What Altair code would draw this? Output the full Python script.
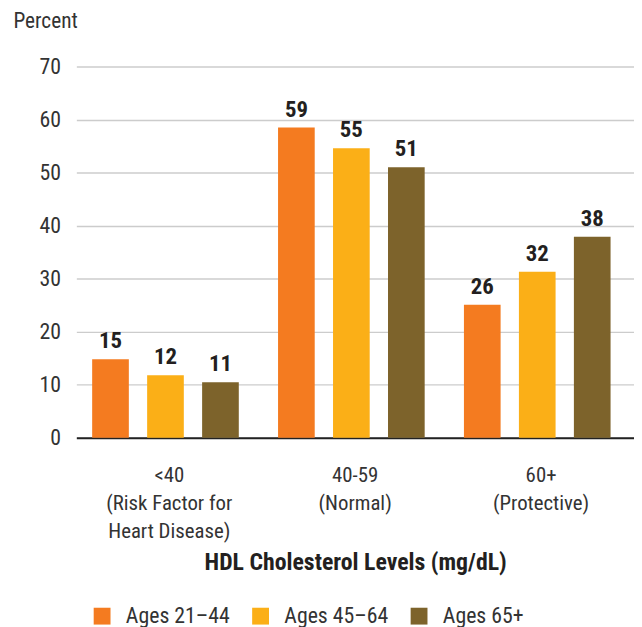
import altair as alt
import pandas as pd

categories = ["<40|(Risk Factor for|Heart Disease)", "40-59|(Normal)", "60+|(Protective)"]
ages = ["Ages 21–44", "Ages 45–64", "Ages 65+"]
colors = ["#F47B20", "#FBAF17", "#7D632B"]
values = {
    "Ages 21–44": [14.8, 58.5, 25.1],
    "Ages 45–64": [11.8, 54.6, 31.3],
    "Ages 65+": [10.5, 51.0, 37.9],
}
value_labels = {
    "Ages 21–44": ["15", "59", "26"],
    "Ages 45–64": ["12", "55", "32"],
    "Ages 65+": ["11", "51", "38"],
}

rows = []
for a in ages:
    for i, c in enumerate(categories):
        rows.append({"cat": c, "age": a, "val": values[a][i], "lab": value_labels[a][i]})
df = pd.DataFrame(rows)

FONT = "Liberation Sans Narrow, Arial Narrow, Roboto Condensed, Liberation Sans, sans-serif"

x = alt.X("cat:N", sort=categories,
          scale=alt.Scale(paddingInner=0, paddingOuter=0),
          axis=alt.Axis(title="HDL Cholesterol Levels (mg/dL)", labelAngle=0,
                        labelExpr="split(datum.label, '|')",
                        labelFontSize=21, labelColor="#333333", labelLineHeight=28.5,
                        labelPadding=27, labelBaseline="top",
                        ticks=False, domain=True, domainColor="#222222", domainWidth=2,
                        titleFontSize=24, titleFontWeight="bold", titleColor="#231f20",
                        titleY=126, titleBaseline="middle", grid=False))
xo = alt.XOffset("age:N", sort=ages,
                 scale=alt.Scale(paddingInner=0.333, paddingOuter=0.357, align=0.403))
y = alt.Y("val:Q", scale=alt.Scale(domain=[0, 70], nice=False),
          axis=alt.Axis(title="Percent", values=[0, 10, 20, 30, 40, 50, 60, 70],
                        labelFontSize=22, labelColor="#333333", labelPadding=16,
                        ticks=False, domain=False, gridColor="#cccccc", gridWidth=1.5,
                        titleAngle=0, titleAlign="left", titleBaseline="middle",
                        titleX=-64, titleY=-45, titleFontSize=21.5, titleFontWeight="normal",
                        titleColor="#333333"))

bars = alt.Chart(df).mark_bar().encode(
    x=x, xOffset=xo, y=y,
    color=alt.Color("age:N", sort=ages, scale=alt.Scale(domain=ages, range=colors),
                    legend=alt.Legend(title=None, orient="none", legendX=15, legendY=544,
                                      direction="horizontal", columns=3, columnPadding=20,
                                      symbolType="square", symbolSize=289, symbolStrokeWidth=0,
                                      labelFontSize=22, labelColor="#333333", labelOffset=13,
                                      padding=0, labelLimit=300)),
)
texts = alt.Chart(df).mark_text(baseline="alphabetic", dy=-11, fontSize=23, fontWeight="bold",
                                color="#231f20").encode(
    x=alt.X("cat:N", sort=categories), xOffset=alt.XOffset("age:N", sort=ages), y="val:Q", text="lab:N"
)

chart = alt.layer(bars, texts).properties(
    width=563, height=375,
    padding={"left": 5, "top": 0, "right": 0, "bottom": 0},
).configure(font=FONT).configure_view(stroke=None)

chart.save("out.html", embed_options={"renderer": "svg", "actions": False})
